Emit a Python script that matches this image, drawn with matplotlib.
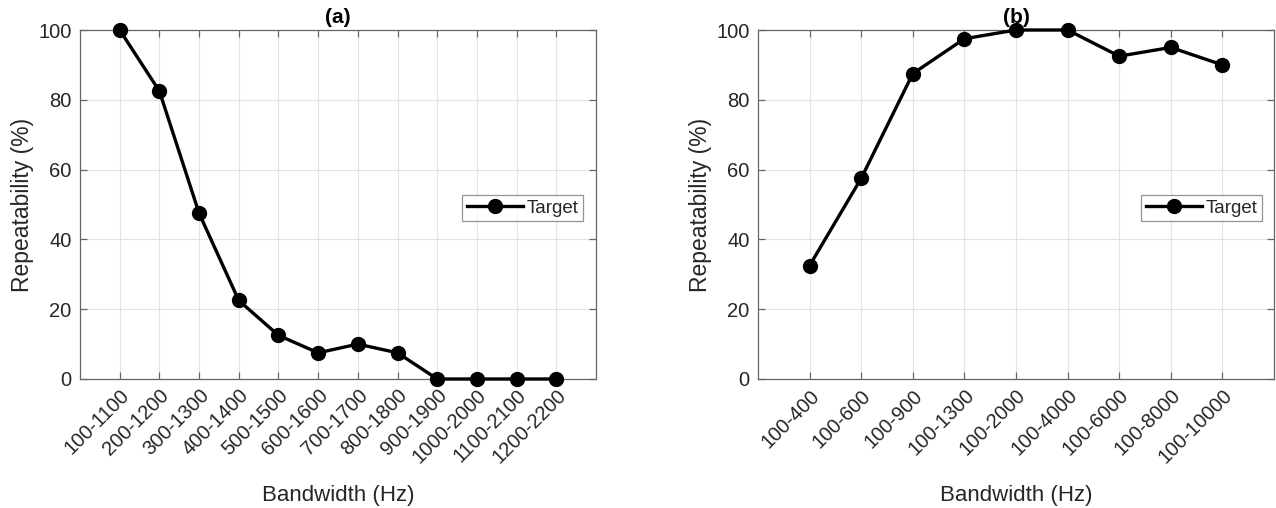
import matplotlib
matplotlib.use("Agg")
import matplotlib.pyplot as plt

plt.rcParams['font.family'] = ['Liberation Sans', 'DejaVu Sans']

cats_a = ["100-1100", "200-1200", "300-1300", "400-1400", "500-1500", "600-1600",
          "700-1700", "800-1800", "900-1900", "1000-2000", "1100-2100", "1200-2200"]
vals_a = [100, 82.5, 47.5, 22.5, 12.5, 7.5, 10, 7.5, 0, 0, 0, 0]

cats_b = ["100-400", "100-600", "100-900", "100-1300", "100-2000", "100-4000",
          "100-6000", "100-8000", "100-10000"]
vals_b = [32.5, 57.5, 87.5, 97.5, 100, 100, 92.5, 95, 90]

W, H = 1276, 508
fig = plt.figure(figsize=(W / 100, H / 100), dpi=100)

def px_axes(l, t, r, b):
    return fig.add_axes([l / W, 1 - b / H, (r - l) / W, (b - t) / H])

ax_a = px_axes(80, 30, 596, 379)
ax_b = px_axes(758, 30, 1274, 379)

text_col = '#262626'
edge_col = '#666666'

def style(ax, cats, vals, title, leg_anchor):
    x = list(range(1, len(cats) + 1))
    ax.plot(x, vals, color='black', linewidth=2.4, marker='o', markersize=10,
            label='Target', clip_on=False, zorder=5)
    ax.set_xlim(0, len(cats) + 1)
    ax.set_ylim(0, 100)
    ax.set_xticks(x)
    ax.set_xticklabels(cats, rotation=45, ha='right', rotation_mode='anchor')
    ax.set_yticks([0, 20, 40, 60, 80, 100])
    ax.grid(True, color='#e3e3e3', linewidth=0.8)
    ax.set_axisbelow(True)
    for s in ax.spines.values():
        s.set_color(edge_col)
        s.set_linewidth(0.9)
    ax.tick_params(direction='in', top=True, right=True, length=5, width=0.9,
                   color=edge_col, labelcolor=text_col, labelsize=14.5, pad=6)
    ax.tick_params(axis='x', pad=5)
    ax.set_xlabel('Bandwidth (Hz)', fontsize=16, color=text_col, labelpad=13)
    ax.set_ylabel('Repeatability (%)', fontsize=16.5, color=text_col, labelpad=3)
    ax.set_title(title, fontsize=15, fontweight='bold', color='black', pad=5)
    leg = ax.legend(loc='center right', bbox_to_anchor=leg_anchor, fontsize=13.5,
                    frameon=True, fancybox=False, handlelength=3.0,
                    borderpad=0.25, handletextpad=0.2, borderaxespad=0)
    leg.get_frame().set_edgecolor('#7a7a7a')
    leg.get_frame().set_linewidth(0.9)
    for t in leg.get_texts():
        t.set_color(text_col)

style(ax_a, cats_a, vals_a, '(a)', (0.975, 0.49))
style(ax_b, cats_b, vals_b, '(b)', (0.977, 0.49))

fig.savefig('out.png', dpi=100)
